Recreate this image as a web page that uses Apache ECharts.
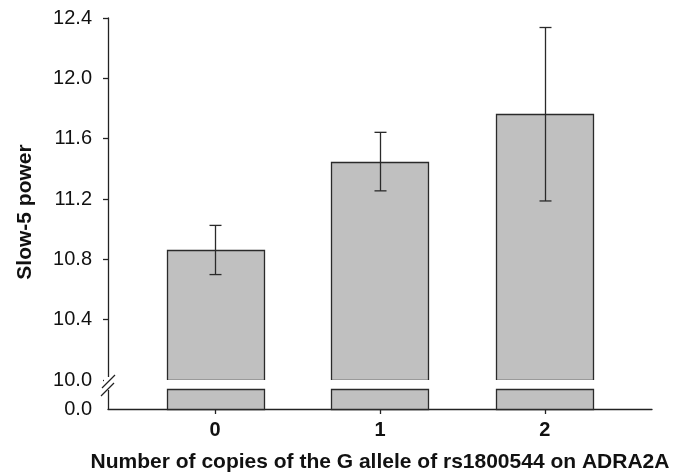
<!DOCTYPE html>
<html>
<head>
<meta charset="utf-8">
<script src="https://cdn.jsdelivr.net/npm/echarts@6/dist/echarts.min.js"></script>
<style>html,body{margin:0;padding:0;background:#fff;}#c{width:679px;height:472px;}</style>
</head>
<body>
<div id="c"></div>
<script>
var categories = ['0', '1', '2'];
var means = [10.862, 11.448, 11.762];
var errors = [0.163, 0.194, 0.575];
var yTickLabelsTop = ['10.0', '10.4', '10.8', '11.2', '11.6', '12.0', '12.4'];
var xTitle = 'Number of copies of the G allele of rs1800544 on ADRA2A';
var yTitle = 'Slow-5 power';

var TOP_MIN = 10.0, TOP_MAX = 12.4, BOT_MIN = 0, BOT_MAX = 1;
var chart = echarts.init(document.getElementById('c'));
var FONT = 'Liberation Sans, Arial, sans-serif';
var axisCol = '#222';

var barData = categories.map(function (c, i) { return [i, means[i]]; });
var errData = categories.map(function (c, i) { return [i, means[i] - errors[i], means[i] + errors[i]]; });

function barRender(minV, maxV) {
  return function (params, api) {
    var x = api.value(0), v = api.value(1);
    var top = Math.min(v, maxV);
    var p0 = api.coord([x, minV]);
    var p1 = api.coord([x, top]);
    var w = api.size([0.59, 0])[0];
    return {
      type: 'rect',
      shape: { x: Math.round(p0[0] - w / 2) + 0.5, y: Math.round(p1[1]) + 0.5, width: Math.round(w), height: Math.round(p0[1] - p1[1]) },
      style: { fill: '#c0c0c0', stroke: '#2a2a2a', lineWidth: 1.3 }
    };
  };
}

var option = {
  backgroundColor: '#fff',
  animation: false,
  grid: [
    { left: 108, top: 18, width: 544, height: 362, outerBoundsMode: 'none', containLabel: false },
    { left: 108, top: 389, width: 544, height: 20, outerBoundsMode: 'none', containLabel: false }
  ],
  xAxis: [
    { gridIndex: 0, type: 'value', min: -0.65, max: 2.65, show: false },
    { gridIndex: 1, type: 'value', min: -0.65, max: 2.65, interval: 1,
      axisLine: { show: true, onZero: false, lineStyle: { color: axisCol, width: 1.3 } },
      axisTick: { show: true, length: 5, lineStyle: { color: axisCol, width: 1.3 }, customValues: [0, 1, 2] },
      axisLabel: { customValues: [0, 1, 2], formatter: function (v) { return categories[Math.round(v)]; },
        fontFamily: FONT, fontSize: 20, fontWeight: 'bold', color: '#111', margin: 11 },
      splitLine: { show: false },
      name: xTitle, nameLocation: 'middle', nameGap: 43,
      nameTextStyle: { fontFamily: FONT, fontSize: 21, fontWeight: 'bold', color: '#111' }
    }
  ],
  yAxis: [
    { gridIndex: 0, type: 'value', min: TOP_MIN, max: TOP_MAX, interval: 0.4,
      axisLine: { show: true, onZero: false, lineStyle: { color: axisCol, width: 1.3 } },
      axisTick: { show: true, length: 5, lineStyle: { color: axisCol, width: 1.3 } },
      axisLabel: { fontFamily: FONT, fontSize: 20, color: '#111', margin: 16,
        formatter: function (v) { var s = v.toFixed(1); return yTickLabelsTop.indexOf(s) >= 0 ? s : ''; } },
      splitLine: { show: false }
    },
    { gridIndex: 1, type: 'value', min: BOT_MIN, max: BOT_MAX, interval: 1,
      axisLine: { show: true, onZero: false, lineStyle: { color: axisCol, width: 1.3 } },
      axisTick: { show: false },
      axisLabel: { fontFamily: FONT, fontSize: 20, color: '#111', margin: 16,
        formatter: function (v) { return v === 0 ? '0.0' : ''; } },
      splitLine: { show: false }
    }
  ],
  series: [
    { type: 'custom', xAxisIndex: 0, yAxisIndex: 0, data: barData, renderItem: barRender(TOP_MIN, TOP_MAX), clip: true, z: 2 },
    { type: 'custom', xAxisIndex: 1, yAxisIndex: 1, data: barData, renderItem: barRender(BOT_MIN, BOT_MAX), clip: false, z: 2 },
    { type: 'custom', xAxisIndex: 0, yAxisIndex: 0, data: errData, z: 3,
      renderItem: function (params, api) {
        var x = api.value(0);
        var lo = api.coord([x, api.value(1)]);
        var hi = api.coord([x, api.value(2)]);
        var cx = Math.round(lo[0]) + 0.5;
        var hw = 6;
        var st = { stroke: '#2a2a2a', lineWidth: 1.3 };
        return { type: 'group', children: [
          { type: 'line', shape: { x1: cx, y1: lo[1], x2: cx, y2: hi[1] }, style: st },
          { type: 'line', shape: { x1: cx - hw, y1: lo[1], x2: cx + hw, y2: lo[1] }, style: st },
          { type: 'line', shape: { x1: cx - hw, y1: hi[1], x2: cx + hw, y2: hi[1] }, style: st }
        ] };
      }
    }
  ],
  graphic: [
    { type: 'text', x: 25, y: 212, rotation: Math.PI / 2,
      style: { text: yTitle, fontFamily: FONT, fontSize: 21, fontWeight: 'bold', fill: '#111', align: 'center', verticalAlign: 'middle' } },
    { type: 'rect', shape: { x: 104, y: 377, width: 8, height: 13 }, style: { fill: '#fff' }, z: 10 },
    { type: 'line', shape: { x1: 102, y1: 388, x2: 115, y2: 375 }, style: { stroke: axisCol, lineWidth: 1.2 }, z: 11 },
    { type: 'line', shape: { x1: 101, y1: 396, x2: 114, y2: 383 }, style: { stroke: axisCol, lineWidth: 1.2 }, z: 11 }
  ]
};
chart.setOption(option);
</script>
</body>
</html>
